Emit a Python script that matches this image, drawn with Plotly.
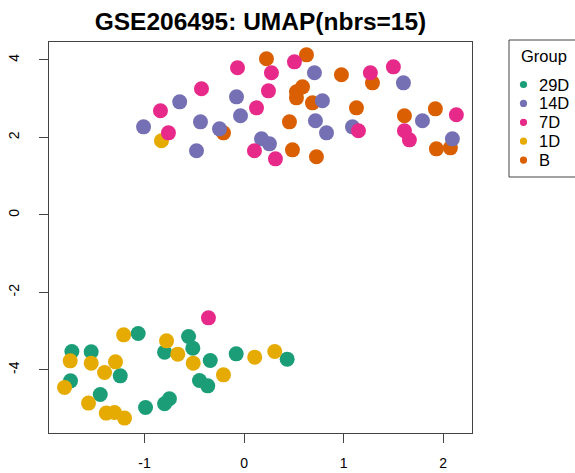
import plotly.graph_objects as go

title_text = "GSE206495: UMAP(nbrs=15)"
legend_title = "Group"
groups = ["29D", "14D", "7D", "1D", "B"]
colors = {"29D": "#1B9E77", "14D": "#7570B3", "7D": "#E7298A", "1D": "#E6AB02", "B": "#D95F02"}

x_29D = [-1.064, -1.730, -1.536, -1.244, -1.744, -1.445, -0.990, -0.750, -0.799, -0.558,
         -0.515, -0.799, -0.340, -0.448, -0.365, -0.079, 0.433]
y_29D = [-3.063, -3.528, -3.535, -4.155, -4.284, -4.637, -4.973, -4.748, -4.877, -3.141,
         -3.440, -3.543, -3.760, -4.276, -4.413, -3.587, -3.724]

x_14D = [-1.010, -0.647, -0.478, -0.438, -0.247, -0.076, -0.036, 0.175, 0.255, 0.707,
         0.787, 0.717, 0.828, 1.089, 1.601, 1.792, 2.093]
y_14D = [2.271, 2.916, 1.652, 2.400, 2.219, 3.045, 2.555, 1.961, 1.832, 3.665,
         2.942, 2.426, 2.116, 2.271, 3.406, 2.426, 1.961]

x_7D = [-0.840, -0.760, -0.428, -0.066, 0.125, 0.245, 0.275, 0.104, 0.315, 0.506,
        1.149, 1.269, 1.500, 1.611, 1.661, 2.133, -0.358]
y_7D = [2.684, 2.116, 3.252, 3.794, 2.761, 3.200, 3.665, 1.652, 1.445, 3.948,
        2.168, 3.665, 3.819, 2.168, 1.935, 2.581, -2.658]

x_1D = [-0.830, -1.210, -1.747, -1.536, -1.292, -1.402, -1.804, -1.563, -1.385, -1.302,
        -1.201, -0.779, -0.666, -0.511, -0.207, 0.107, 0.308]
y_1D = [1.910, -3.097, -3.768, -3.827, -3.794, -4.070, -4.457, -4.859, -5.117, -5.102,
        -5.246, -3.252, -3.595, -3.827, -4.129, -3.672, -3.528]

x_B = [-0.207, 0.225, 0.627, 0.587, 0.526, 0.526, 0.687, 0.456, 0.486, 0.727,
       0.978, 1.290, 1.129, 1.611, 1.922, 1.932, 2.073]
y_B = [2.116, 4.026, 4.129, 3.303, 3.174, 3.019, 2.890, 2.400, 1.677, 1.497,
       3.613, 3.406, 2.761, 2.555, 2.735, 1.703, 1.729]

x_tickvals = [-1, 0, 1, 2]
x_ticktext = ["-1", "0", "1", "2"]
y_tickvals = [-4, -2, 0, 2, 4]
y_ticktext = ["-4", "-2", "0", "2", "4"]

data = {
    "29D": (x_29D, y_29D),
    "14D": (x_14D, y_14D),
    "7D": (x_7D, y_7D),
    "1D": (x_1D, y_1D),
    "B": (x_B, y_B),
}

FONT = "Liberation Sans, Arial, Helvetica, sans-serif"

# figure geometry (pixels)
W, H = 575, 473
ML, MR, MT, MB = 49, 103, 42, 40
PW, PH = W - ML - MR, H - MT - MB


def px_x(px):
    return (px - ML) / PW


def px_y(py):
    return (H - MB - py) / PH


fig = go.Figure()
draw_order = ["B", "29D", "1D", "14D", "7D"]
for g in draw_order:
    xs, ys = data[g]
    fig.add_trace(go.Scatter(x=xs, y=ys, mode="markers", name=g, showlegend=False,
                             marker=dict(size=15, color=colors[g], line=dict(width=0))))

axis_common = dict(showline=True, mirror=True, linecolor="#444", linewidth=1,
                   ticks="outside", ticklen=9, tickcolor="#444", tickwidth=1,
                   showgrid=False, zeroline=False,
                   tickfont=dict(family=FONT, size=14, color="black"))

# legend (R-style): frame, title, dots and labels
fig.add_shape(type="rect", xref="paper", yref="paper",
              x0=px_x(509), x1=px_x(590), y0=px_y(177), y1=px_y(40),
              line=dict(color="#444", width=1), fillcolor="rgba(0,0,0,0)", layer="above")
fig.add_annotation(text=legend_title, xref="paper", yref="paper", x=px_x(519), y=px_y(56),
                   xanchor="left", yanchor="middle", showarrow=False,
                   font=dict(family=FONT, size=16.5, color="black"))
for i, g in enumerate(groups):
    cy = px_y(84.5 + 18.9 * i)
    cx = px_x(523.5)
    fig.add_shape(type="circle", xref="paper", yref="paper",
                  xsizemode="pixel", ysizemode="pixel", xanchor=cx, yanchor=cy,
                  x0=-3.6, x1=3.6, y0=-3.6, y1=3.6,
                  line=dict(width=0), fillcolor=colors[g], layer="above")
    fig.add_annotation(text=g, xref="paper", yref="paper", x=px_x(536.5), y=cy,
                       xanchor="left", yanchor="middle", showarrow=False,
                       font=dict(family=FONT, size=16.5, color="black"))

fig.update_layout(
    width=W, height=H,
    margin=dict(l=ML, r=MR, t=MT, b=MB, autoexpand=False),
    plot_bgcolor="white", paper_bgcolor="white",
    showlegend=False,
    title=dict(text="<b>" + title_text + "</b>", x=0.5, xref="paper", xanchor="center",
               y=1 - 21.5 / H, yref="container", yanchor="middle",
               font=dict(family=FONT, size=24.5, color="black")),
    xaxis=dict(range=[-1.96, 2.29], tickvals=x_tickvals, ticktext=x_ticktext,
               ticklabelstandoff=8, **axis_common),
    yaxis=dict(range=[-5.63, 4.46], tickvals=y_tickvals, ticktext=y_ticktext,
               tickangle=-90, ticklabelstandoff=14, **axis_common),
)

fig.write_html("out.html", post_script="document.body.style.margin='0';",
               config={"displayModeBar": False})
